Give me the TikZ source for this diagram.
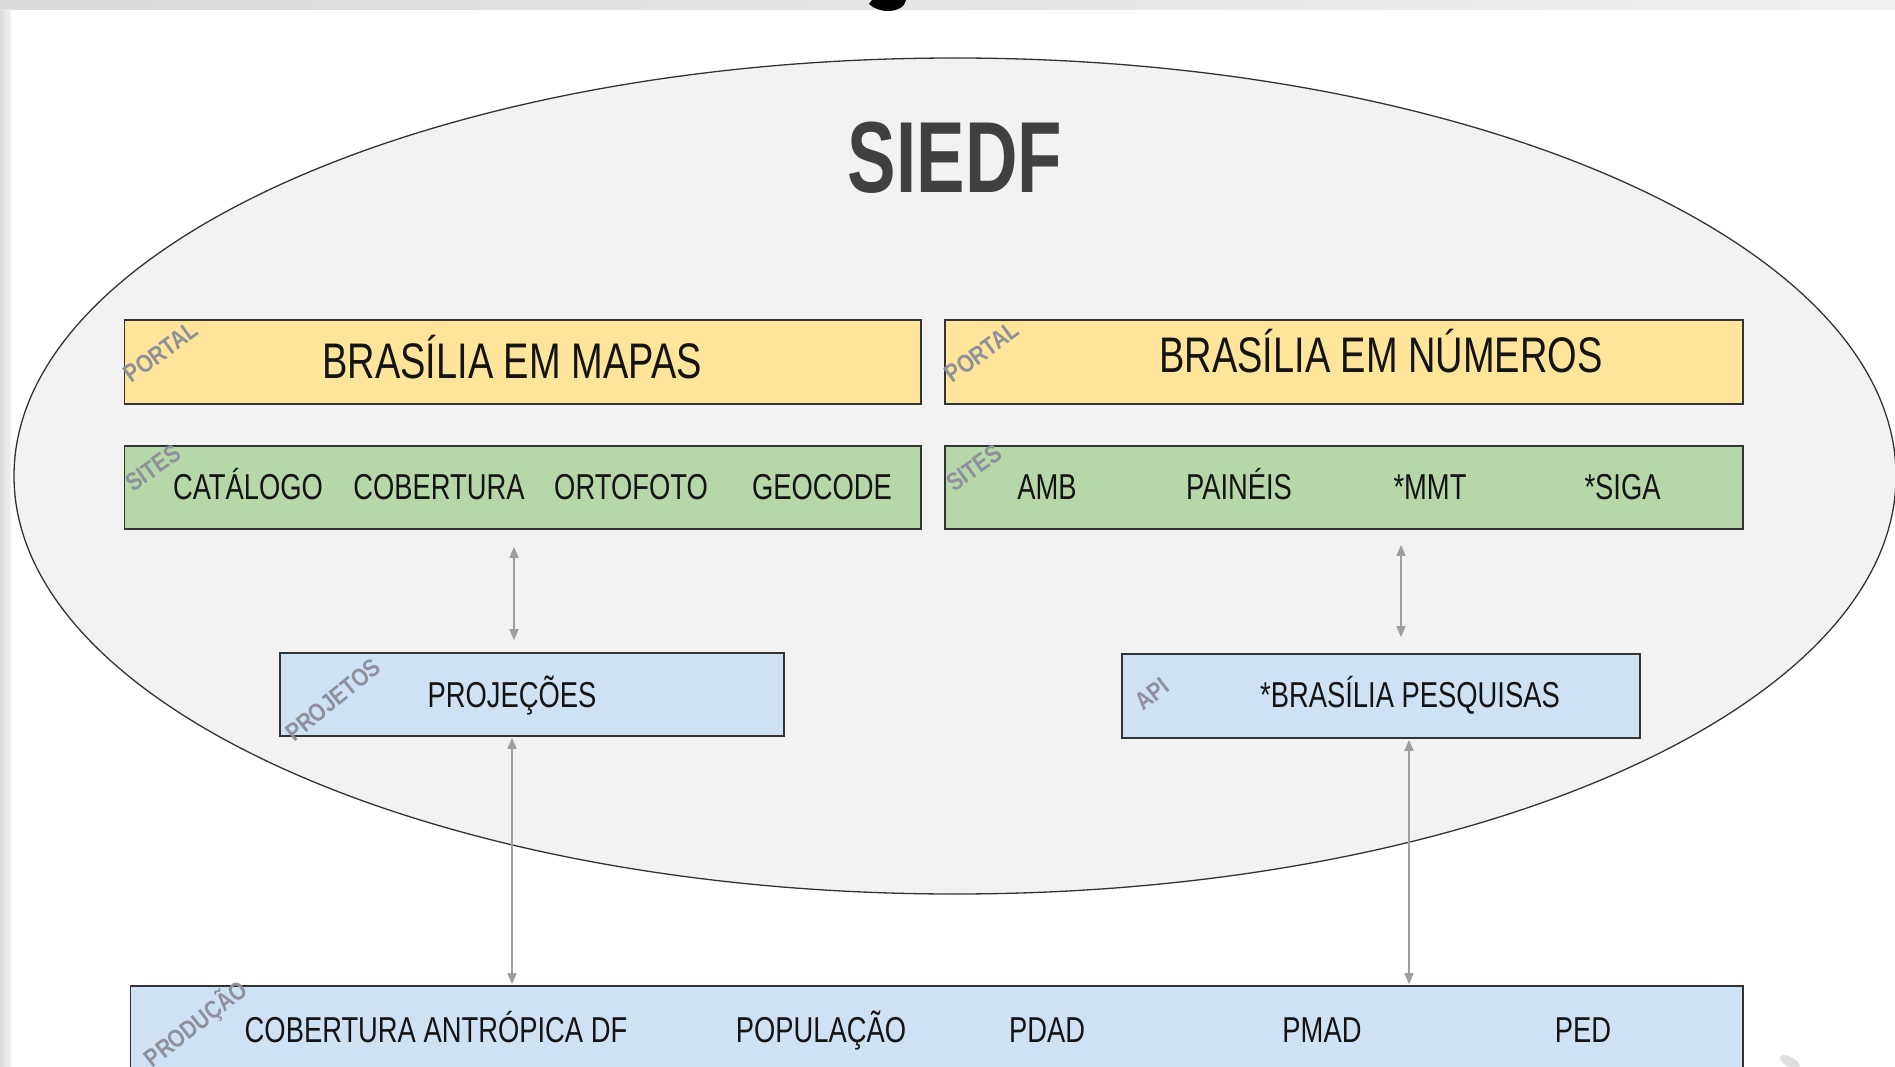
\documentclass[tikz,border=0pt]{standalone}
\usepackage{fontspec}
\setmainfont[FakeStretch=0.76]{Liberation Sans}
\newfontfamily\titlefont[FakeStretch=0.72]{Liberation Sans}
\newfontfamily\tagfont[FakeStretch=0.84]{Liberation Sans}
\usetikzlibrary{arrows.meta,shapes.geometric}
\definecolor{ellfill}{HTML}{F2F2F2}
\definecolor{edgec}{HTML}{333333}
\definecolor{ybox}{HTML}{FFE599}
\definecolor{gbox}{HTML}{B6D7A8}
\definecolor{bbox}{HTML}{CFE2F3}
\definecolor{tagc}{HTML}{8E919C}
\definecolor{connc}{HTML}{9E9E9E}
\definecolor{titlec}{HTML}{404040}
\definecolor{txt}{HTML}{141414}
\tikzset{
  panel/.style 2 args={draw=edgec,line width=1.6pt,rectangle,inner sep=0pt,minimum width=#1pt,minimum height=#2pt},
  lbl/.style={anchor=base,text=txt,inner sep=0pt,font=\fontsize{36}{40}\selectfont},
  biglbl/.style={anchor=base,text=txt,inner sep=0pt,font=\fontsize{50}{56}\selectfont},
  tagtext/.style={text=tagc,inner sep=0pt,font=\tagfont\bfseries\fontsize{25}{28}\selectfont},
  link/.style={draw=connc,line width=1.5pt,{Triangle[length=11pt,width=9pt]}-{Triangle[length=11pt,width=9pt]}}
}
\begin{document}
\begin{tikzpicture}[x=1pt,y=-1pt]
\useasboundingbox (0,0) rectangle (1895,1067);
\fill[white] (0,0) rectangle (1895,1067);
\shade[left color=gray!30,right color=gray!12] (0,0) rectangle (1895,10);
\shade[left color=gray!28,right color=gray!10] (0,10) rectangle (11,1067);
\fill[black] (872,0) -- (906,0) .. controls (905,7) and (897,11) .. (888,11) .. controls (880,11) and (873,8) .. (869,4) -- cycle;
\fill[gray!35,opacity=0.7,rotate around={-30:(1790,1062)}] (1790,1062) ellipse [x radius=11pt,y radius=5pt];

\node[ellipse,draw=edgec,fill=ellfill,line width=1.3pt,inner sep=0pt,minimum width=1882pt,minimum height=836pt] (siedf) at (955,476) {};
\node[anchor=base,text=titlec,inner sep=0pt,font=\titlefont\bfseries\fontsize{101}{110}\selectfont] (title) at (955,193) {SIEDF};

\node[panel={796.5}{84},fill=ybox] (ym) at (522.75,362) {};
\node[panel={798}{84},fill=ybox] (yn) at (1344,362) {};
\node[panel={796.5}{83},fill=gbox] (gm) at (522.75,487.5) {};
\node[panel={798}{83},fill=gbox] (gn) at (1344,487.5) {};
\node[panel={504}{83},fill=bbox] (proj) at (532,694.5) {};
\node[panel={518}{84},fill=bbox] (pesq) at (1381,696) {};
\node[panel={1612.5}{130},fill=bbox] (prod) at (936.75,1051) {};

\coordinate (c1) at (514,0);
\coordinate (c2) at (1401,0);
\coordinate (c3) at (512,0);
\coordinate (c4) at (1409,0);
\draw[link,shorten <=17pt,shorten >=12pt] (gm.south -| c1) -- (proj.north -| c1);
\draw[link,shorten <=15pt,shorten >=16pt] (gn.south -| c2) -- (pesq.north -| c2);
\draw[link,shorten <=1pt,shorten >=1pt] (proj.south -| c3) -- (prod.north -| c3);
\draw[link,shorten <=1pt,shorten >=1pt] (pesq.south -| c4) -- (prod.north -| c4);

\node[biglbl] (tmapas) at (512,378) {BRASÍLIA EM MAPAS};
\node[biglbl] (tnum) at (1381,372) {BRASÍLIA EM NÚMEROS};

\node[lbl] (s1) at (248,499.5) {CATÁLOGO};
\node[lbl] (s2) at (439,499.5) {COBERTURA};
\node[lbl] (s3) at (631,499.5) {ORTOFOTO};
\node[lbl] (s4) at (822,499.5) {GEOCODE};
\node[lbl] (s5) at (1047,499.5) {AMB};
\node[lbl] (s6) at (1239,499.5) {PAINÉIS};
\node[lbl] (s7) at (1430,499.5) {*MMT};
\node[lbl] (s8) at (1622.5,499.5) {*SIGA};

\node[lbl] (tproj) at (512,707) {PROJEÇÕES};
\node[lbl] (tpesq) at (1410,707) {*BRASÍLIA PESQUISAS};

\node[lbl] (p1) at (436,1042) {COBERTURA ANTRÓPICA DF};
\node[lbl] (p2) at (821,1042) {POPULAÇÃO};
\node[lbl] (p3) at (1047,1042) {PDAD};
\node[lbl] (p4) at (1322,1042) {PMAD};
\node[lbl] (p5) at (1583,1042) {PED};

\node[tagtext,rotate=36] (g1) at (161,352) {PORTAL};
\node[tagtext,rotate=36] (g2) at (982,352) {PORTAL};
\node[tagtext,rotate=35] (g3) at (153,468) {SITES};
\node[tagtext,rotate=35] (g4) at (974,468) {SITES};
\node[tagtext,rotate=39] (g5) at (333,700) {PROJETOS};
\node[tagtext,rotate=38] (g6) at (1152,694) {API};
\node[tagtext,rotate=38] (g7) at (196,1024) {PRODUÇÃO};
\end{tikzpicture}
\end{document}
